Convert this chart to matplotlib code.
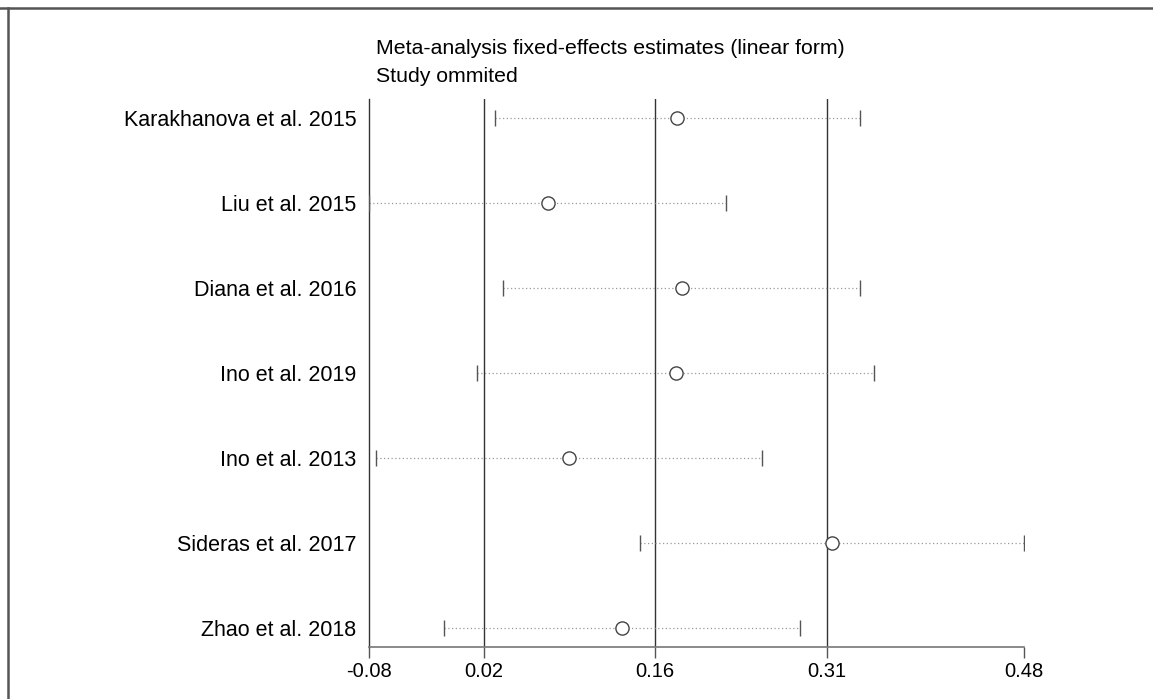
import numpy as np
import matplotlib.pyplot as plt
from matplotlib.lines import Line2D

plt.rcParams['font.family'] = ['Liberation Sans', 'DejaVu Sans']

# Influence analysis: estimate with each study omitted
studies = ['Karakhanova et al. 2015', 'Liu et al. 2015', 'Diana et al. 2016',
           'Ino et al. 2019', 'Ino et al. 2013', 'Sideras et al. 2017',
           'Zhao et al. 2018']
est = [0.1837, 0.0727, 0.1876, 0.1826, 0.0910, 0.3162, 0.1360]
lower = [0.0273, -0.0800, 0.0349, 0.0124, -0.0743, 0.1520, -0.0159]
upper = [0.3402, 0.2253, 0.3402, 0.3521, 0.2563, 0.4800, 0.2883]

# overall estimate and its CI (reference lines), axis range
overall = [0.0180, 0.1647, 0.3114]
x_min, x_max = -0.08, 0.48
tick_vals = [x_min] + overall + [x_max]
tick_labels = ['-0.08', '0.02', '0.16', '0.31', '0.48']

fig = plt.figure(figsize=(11.53, 6.99), dpi=100)
ax = fig.add_axes([369 / 1153, 1 - 647 / 699, (1024 - 369) / 1153, (647 - 99) / 699])

y = np.arange(1, len(studies) + 1)

for v in overall:
    ax.axvline(v, color='#333333', lw=1.0, zorder=1)

ax.hlines(y, lower, upper, colors='#9a9a9a', lw=0.9, linestyles=(0, (1, 2)), zorder=2)
ax.plot(lower, y, '|', color='#555555', ms=11.5, mew=1.0, zorder=3)
ax.plot(upper, y, '|', color='#555555', ms=11.5, mew=1.0, zorder=3)
ax.plot(est, y, 'o', mfc='white', mec='#444444', ms=9.5, mew=1.0, zorder=4)

ax.set_xlim(x_min, x_max)
ax.set_ylim(len(studies) + 0.224, 1 - 0.224)
ax.set_yticks(y)
ax.set_yticklabels(studies, fontsize=15.5)
ax.set_xticks(tick_vals)
ax.set_xticklabels(tick_labels, fontsize=14.5)
ax.tick_params(axis='y', length=0, pad=9)
ax.tick_params(axis='x', length=8, width=1.0, color='#555555', pad=3)

for s in ['top', 'right']:
    ax.spines[s].set_visible(False)
ax.spines['left'].set_color('#333333')
ax.spines['left'].set_linewidth(1.0)
ax.spines['bottom'].set_color('#777777')
ax.spines['bottom'].set_linewidth(1.2)

fig.text(376 / 1153, 1 - 49 / 699, 'Meta-analysis fixed-effects estimates (linear form)',
         fontsize=15.3, va='center', ha='left')
fig.text(376 / 1153, 1 - 77 / 699, 'Study ommited', fontsize=15.3, va='center', ha='left')

# outer frame (top and left edges)
fig.add_artist(Line2D([0, 1], [1 - 7.5 / 699, 1 - 7.5 / 699], color='#555555', lw=1.8))
fig.add_artist(Line2D([7.5 / 1153, 7.5 / 1153], [0, 1 - 7.5 / 699], color='#555555', lw=1.8))

fig.savefig('out.png', dpi=100)
